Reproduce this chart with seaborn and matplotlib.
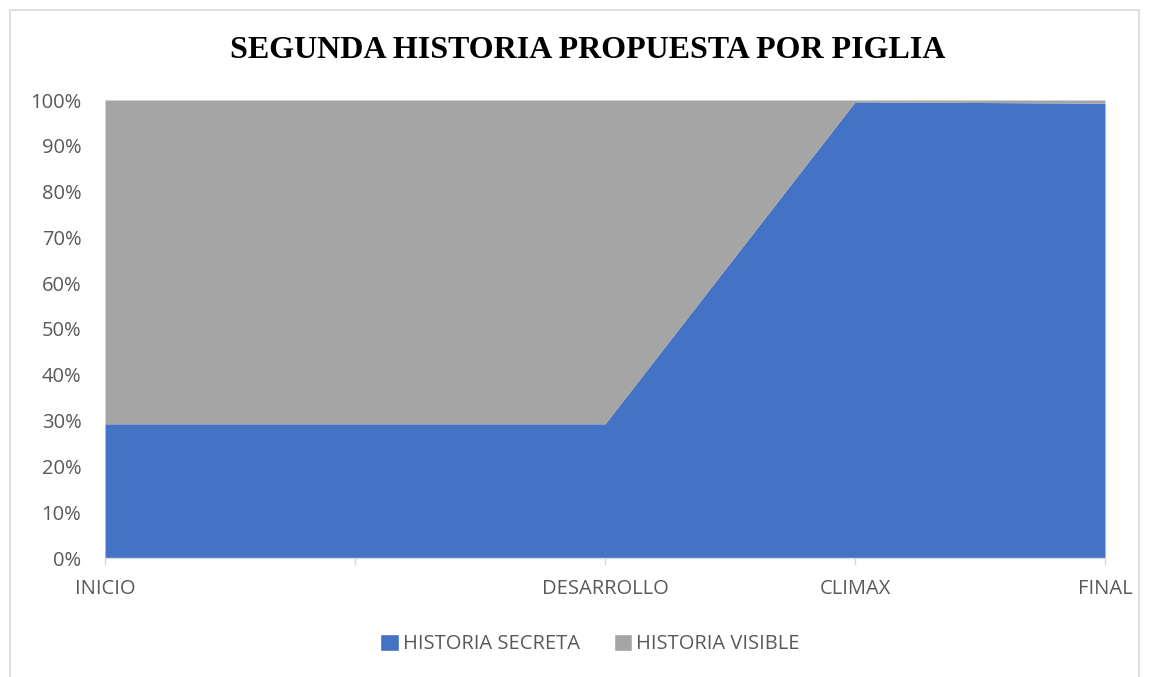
import matplotlib
matplotlib.use("Agg")
import matplotlib.pyplot as plt
import seaborn as sns
import numpy as np
import pandas as pd
from matplotlib.patches import Rectangle, Patch

categories = ["INICIO", "", "DESARROLLO", "CLIMAX", "FINAL"]
historia_secreta = [29.3, 29.3, 29.3, 99.6, 99.3]
historia_visible = [70.7, 70.7, 70.7, 0.4, 0.7]
y_ticks = [0, 10, 20, 30, 40, 50, 60, 70, 80, 90, 100]
title = "SEGUNDA HISTORIA PROPUESTA POR PIGLIA"

sns.set_theme(style="white")
plt.rcParams['font.family'] = ['Open Sans', 'DejaVu Sans']

fig = plt.figure(figsize=(11.5, 6.77), dpi=100)
ax = fig.add_axes([105/1150, 1-558/677, 1000/1150, 458/677])

x = np.arange(len(categories))
df = pd.DataFrame({"x": x, "secreta": historia_secreta,
                   "total": np.array(historia_secreta) + np.array(historia_visible)})
blue = "#4472C4"
gray = "#A5A5A5"
ax.fill_between(df["x"], 0, df["secreta"], color=blue, linewidth=0)
ax.fill_between(df["x"], df["secreta"], df["total"], color=gray, linewidth=0)
sns.lineplot(data=df, x="x", y="secreta", ax=ax, color=blue, lw=0)

ax.set_xlim(0, len(categories) - 1)
ax.set_ylim(0, 100)
ax.set_yticks(y_ticks)
ax.set_yticklabels([f"{v}%" for v in y_ticks], fontsize=14.5, color="#595959")
ax.set_xticks(x)
ax.set_xticklabels(categories, fontsize=14.5, color="#595959")
ax.set_xlabel("")
ax.set_ylabel("")
for s in ["top", "right", "left"]:
    ax.spines[s].set_visible(False)
ax.spines["bottom"].set_color("#D9D9D9")
ax.spines["bottom"].set_linewidth(1)
ax.tick_params(axis="x", length=5, color="#D9D9D9", width=1, pad=10, direction="out", bottom=True)
ax.tick_params(axis="y", length=0, pad=17)
for lab in ax.get_yticklabels():
    lab.set_horizontalalignment("right")

fig.text(588/1150, 1-51/677, title, ha="center", va="center",
         fontsize=23, fontweight="bold", family=["Liberation Serif", "DejaVu Serif"], color="black")

handles = [Patch(facecolor=blue, label="HISTORIA SECRETA"),
           Patch(facecolor=gray, label="HISTORIA VISIBLE")]
fig.legend(handles=handles, loc="center", bbox_to_anchor=(590/1150, 1-644/677), ncol=2,
           frameon=False, fontsize=14.5, handlelength=0.9, handleheight=0.9,
           handletextpad=0.2, columnspacing=1.7, labelcolor="#595959")

fig.patches.append(Rectangle((10/1150, -0.01), 1129/1150, 1-10/677+0.01, transform=fig.transFigure,
                             fill=False, edgecolor="#D9D9D9", linewidth=1.2))

fig.savefig("out.png", dpi=100)
